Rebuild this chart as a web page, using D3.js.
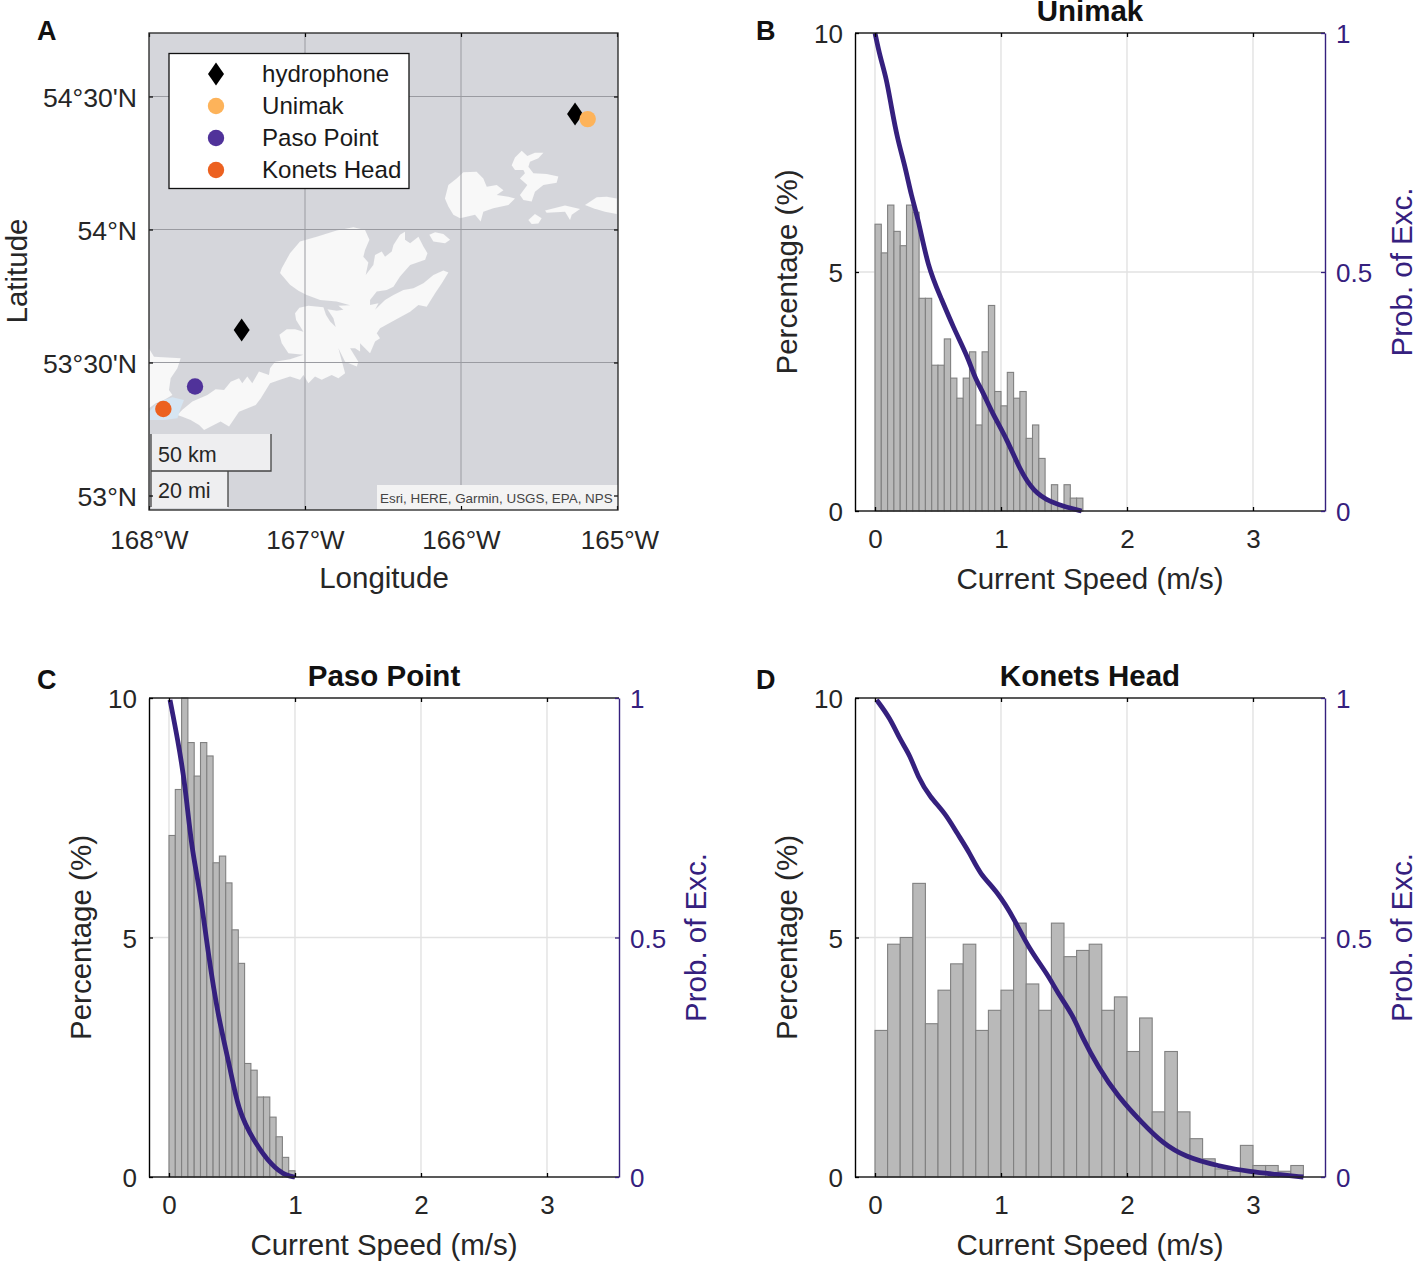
<!DOCTYPE html>
<html>
<head>
<meta charset="utf-8">
<script src="https://cdn.jsdelivr.net/npm/d3@7"></script>
<style>
  html, body { margin: 0; padding: 0; background: #fff; }
  svg { display: block; }
  text { font-family: "Liberation Sans", Arial, sans-serif; fill: #262626; }
  .tick text { font-size: 26px; }
  .axis_label { font-size: 29.5px; }
  .title { font-size: 29.5px; font-weight: bold; fill: #111; }
  .panel_letter { font-size: 27px; font-weight: bold; fill: #111; }
  .legend text { font-size: 24.1px; fill: #1a1a1a; }
</style>
</head>
<body>
<div id="chart"></div>
<script>
const speedTicks = [0, 1, 2, 3]
const pctTicks = [0, 5, 10]
const probTicks = [0, 0.5, 1]

const unimakPct = [6.0, 5.4, 6.4, 5.85, 5.55, 6.4, 6.25, 4.45, 4.45, 3.05, 3.05, 3.6, 2.78, 2.36, 2.78, 3.33, 1.8, 3.33, 4.3, 2.5, 2.2, 2.9, 2.36, 2.5, 1.52, 1.8, 1.1, 0.2, 0.55, 0.1, 0.55, 0.27, 0.27]
const pasoPct = [7.13, 8.09, 10, 9.07, 8.37, 9.07, 8.79, 6.56, 6.7, 6.14, 5.16, 4.46, 2.37, 2.23, 1.67, 1.67, 1.25, 0.84, 0.41, 0.13]
const konetsPct = [3.06, 4.86, 5.0, 6.13, 3.2, 3.9, 4.45, 4.86, 3.06, 3.48, 3.9, 5.3, 4.03, 3.48, 5.3, 4.6, 4.73, 4.86, 3.48, 3.76, 2.62, 3.32, 1.36, 2.62, 1.36, 0.8, 0.38, 0.17, 0.12, 0.66, 0.24, 0.24, 0.12, 0.24]

const unimakSpeed = [0, .04, .09, .13, .18, .24, .29, .34, .42, .52, .62, .74, .79, .86, .93, 1.05, 1.15, 1.26, 1.39, 1.52, 1.64]
const unimakExc = [1, .95, .906, .845, .776, .72, .657, .615, .51, .448, .385, .32, .28, .247, .205, .149, .086, .04, .019, .008, 0]
const pasoSpeed = [.008, .07, .127, .18, .246, .31, .39, .484, .548, .667, .825, .93, 1]
const pasoExc = [.996, .912, .822, .683, .6, .468, .334, .23, .14, .077, .02, .003, 0]
const konetsSpeed = [.013, .12, .2, .278, .34, .437, .556, .65, .754, .833, .968, 1.11, 1.214, 1.373, 1.45, 1.571, 1.643, 1.77, 1.93, 2.12, 2.28, 2.46, 2.72, 2.99, 3.17, 3.4]
const konetsExc = [.996, .958, .912, .881, .835, .793, .76, .718, .676, .632, .597, .537, .48, .422, .384, .338, .292, .23, .167, .113, .071, .042, .023, .01, .006, 0]

const lonTicks = [168, 167, 166, 165]
const latTicks = [53, 53.5, 54, 54.5]
const latLabels = ["53°N", "53°30'N", "54°N", "54°30'N"]

// land outlines, [deg W, deg N]
const landMain = [[167.786,53.322],[167.722,53.353],[167.626,53.378],[167.573,53.399],[167.519,53.397],[167.476,53.428],[167.423,53.441],[167.402,53.422],[167.37,53.447],[167.338,53.422],[167.295,53.466],[167.231,53.453],[167.224,53.478],[167.192,53.503],[167.096,53.512],[167.01,53.529],[167.106,53.535],[167.149,53.572],[167.164,53.604],[167.117,53.625],[167.064,53.625],[167.01,53.616],[167.057,53.66],[167.064,53.685],[167.036,53.706],[166.978,53.713],[166.882,53.708],[166.865,53.679],[166.839,53.654],[166.803,53.633],[166.818,53.666],[166.856,53.7],[166.797,53.695],[166.754,53.698],[166.786,53.713],[166.711,53.715],[166.797,53.729],[166.903,53.735],[166.989,53.754],[167.042,53.77],[167.096,53.792],[167.16,53.836],[167.149,53.854],[167.096,53.911],[167.032,53.955],[166.925,53.973],[166.797,53.996],[166.69,54.008],[166.615,53.998],[166.587,53.961],[166.615,53.923],[166.626,53.898],[166.594,53.876],[166.611,53.829],[166.562,53.867],[166.551,53.904],[166.508,53.917],[166.487,53.898],[166.444,53.917],[166.433,53.942],[166.391,53.98],[166.359,53.992],[166.359,53.961],[166.326,53.948],[166.273,53.973],[166.241,53.936],[166.215,53.911],[166.23,53.886],[166.326,53.867],[166.391,53.823],[166.433,53.785],[166.476,53.773],[166.54,53.767],[166.583,53.735],[166.583,53.716],[166.529,53.723],[166.551,53.698],[166.487,53.735],[166.433,53.754],[166.369,53.773],[166.305,53.779],[166.241,53.798],[166.177,53.829],[166.113,53.846],[166.081,53.838],[166.123,53.798],[166.166,53.76],[166.22,53.71],[166.273,53.716],[166.326,53.691],[166.423,53.66],[166.519,53.629],[166.54,53.61],[166.519,53.591],[166.551,53.579],[166.583,53.535],[166.615,53.554],[166.647,53.572],[166.647,53.541],[166.679,53.554],[166.711,53.554],[166.658,53.503],[166.668,53.485],[166.743,53.503],[166.786,53.554],[166.743,53.46],[166.786,53.441],[166.829,53.453],[166.893,53.435],[166.936,53.447],[166.978,53.422],[167.01,53.453],[167.032,53.435],[167.096,53.447],[167.16,53.435],[167.224,53.422],[167.284,53.365],[167.316,53.34],[167.423,53.315],[167.487,53.259],[167.541,53.278],[167.647,53.246],[167.679,53.265],[167.733,53.284],[167.786,53.296],[167.818,53.303]]
const landPatch = [[166.203,53.98],[166.166,53.99],[166.113,53.983],[166.07,53.961],[166.102,53.948],[166.177,53.955]]
const landAkun = [[166.103,54.117],[166.081,54.167],[166.028,54.192],[165.985,54.215],[165.9,54.217],[165.857,54.192],[165.835,54.161],[165.771,54.167],[165.728,54.148],[165.771,54.13],[165.696,54.123],[165.654,54.117],[165.696,54.092],[165.793,54.08],[165.857,54.067],[165.874,54.03],[165.91,54.055],[166.006,54.042],[166.049,54.055],[166.081,54.086]]
const landAkutan = [[165.675,54.242],[165.654,54.271],[165.611,54.296],[165.575,54.276],[165.526,54.289],[165.472,54.289],[165.504,54.268],[165.558,54.255],[165.568,54.236],[165.536,54.211],[165.451,54.209],[165.376,54.199],[165.387,54.176],[165.472,54.167],[165.526,54.142],[165.547,54.105],[165.6,54.111],[165.622,54.13],[165.575,54.167],[165.622,54.192],[165.59,54.211],[165.6,54.224],[165.654,54.224]]
const landSliverA = [[165.568,54.036],[165.526,54.058],[165.483,54.042],[165.504,54.023],[165.547,54.021]]
const landSliverB = [[165.461,54.071],[165.333,54.09],[165.237,54.077],[165.29,54.055],[165.301,54.036],[165.333,54.067],[165.451,54.063]]
const landEast = [[165.205,54.092],[165.13,54.121],[165.066,54.123],[165.002,54.117],[165.002,54.058],[165.077,54.067],[165.152,54.08]]
const landSouthwest = [[168,53.553],[167.968,53.522],[167.797,53.516],[167.818,53.478],[167.861,53.441],[167.872,53.397],[167.85,53.378],[167.904,53.359],[167.957,53.347],[168,53.328]]
const shallows = [[168,53.315],[167.936,53.353],[167.85,53.369],[167.776,53.359],[167.797,53.328],[167.818,53.29],[167.904,53.284],[168,53.284]]
const lands = [landMain, landPatch, landAkun, landAkutan, landSliverA, landSliverB, landEast, landSouthwest]

const hydrophones = [[167.406, 53.622], [165.269, 54.434]]
const siteNames = ["Unimak", "Paso Point", "Konets Head"]
const siteColors = ["#fdb35a", "#50329a", "#ec6120"]
const siteLocs = [[165.188, 54.415], [167.705, 53.41], [167.908, 53.325]]
const attribution = "Esri, HERE, Garmin, USGS, EPA, NPS"

const W = 1417, H = 1263
const PURPLE = "#35207e", GRID = "#e2e2e2", BIN_FINE = 0.05, BIN_COARSE = 0.1

const svg = d3.select("#chart").append("svg").attr("width", W).attr("height", H)

drawMap()
drawPanel({ left: 855, top: 33, bottom: 511, name: "Unimak", letter: "B", letterY: 40, pct: unimakPct, binW: BIN_FINE, speed: unimakSpeed, exc: unimakExc })
drawPanel({ left: 149, top: 698, bottom: 1177, name: "Paso Point", letter: "C", letterY: 689, pct: pasoPct, binW: BIN_FINE, speed: pasoSpeed, exc: pasoExc })
drawPanel({ left: 855, top: 698, bottom: 1177, name: "Konets Head", letter: "D", letterY: 689, pct: konetsPct, binW: BIN_COARSE, speed: konetsSpeed, exc: konetsExc })

function drawPanel({ left, top, bottom, name, letter, letterY, pct, binW, speed, exc }) {
    const right = left + 470,
        x0 = left + 20,
        x = d3.scaleLinear().domain([0, 1]).range([x0, x0 + 126]),
        y = d3.scaleLinear().domain([0, 10]).range([bottom, top]),
        yProb = d3.scaleLinear().domain([0, 1]).range([bottom, top]),
        g = svg.append("g")

    // grid
    g.selectAll("line.vgrid").data(speedTicks).enter().append("line")
        .attr("x1", d => x(d)).attr("x2", d => x(d)).attr("y1", top).attr("y2", bottom)
        .attr("stroke", GRID).attr("stroke-width", 1.4)
    g.append("line").attr("x1", left).attr("x2", right).attr("y1", y(5)).attr("y2", y(5))
        .attr("stroke", GRID).attr("stroke-width", 1.4)

    // histogram
    g.selectAll("rect.bar").data(pct).enter().append("rect").attr("class", "bar")
        .attr("x", (d, i) => x(i * binW))
        .attr("width", x(binW) - x(0))
        .attr("y", d => y(d))
        .attr("height", d => y(0) - y(d))
        .attr("fill", "#b9b9b9").attr("stroke", "#808080").attr("stroke-width", 1.1)

    // exceedance
    const line = d3.line().x(d => x(d[0])).y(d => yProb(d[1])).curve(d3.curveBasis)
    g.append("path").attr("d", line(d3.zip(speed, exc)))
        .attr("fill", "none").attr("stroke", PURPLE).attr("stroke-width", 4.8).attr("stroke-linejoin", "round")

    // axes
    const xBottom = d3.axisBottom(x).tickValues(speedTicks).tickFormat(d3.format("d")).tickSizeInner(-4).tickSizeOuter(0).tickPadding(19)
    const xTop = d3.axisTop(x).tickValues(speedTicks).tickFormat("").tickSizeInner(-4).tickSizeOuter(0)
    const yLeft = d3.axisLeft(y).tickValues(pctTicks).tickSizeInner(-4).tickSizeOuter(0).tickPadding(12)
    const yRight = d3.axisRight(yProb).tickValues(probTicks).tickFormat(d => d).tickSizeInner(-4).tickSizeOuter(0).tickPadding(11)

    g.append("line").attr("x1", left).attr("x2", right).attr("y1", top).attr("y2", top).attr("stroke", "#222").attr("stroke-width", 1.4)
    g.append("line").attr("x1", left).attr("x2", right).attr("y1", bottom).attr("y2", bottom).attr("stroke", "#222").attr("stroke-width", 1.4)
    g.append("g").attr("transform", `translate(0,${bottom})`).call(xBottom).call(s => s.select(".domain").remove())
    g.append("g").attr("transform", `translate(0,${top})`).call(xTop).call(s => s.select(".domain").remove())
    const yL = g.append("g").attr("transform", `translate(${left},0)`).call(yLeft)
    const yR = g.append("g").attr("transform", `translate(${right},0)`).call(yRight)
    yR.selectAll(".domain, line").attr("stroke", PURPLE)
    yR.selectAll("text").style("fill", PURPLE)
    yL.selectAll("text").attr("dy", "0.38em")
    yR.selectAll("text").attr("dy", "0.38em")

    g.selectAll(".tick line").attr("stroke-width", 1.3)
    g.selectAll(".domain").attr("stroke-width", 1.4)

    g.append("text").attr("class", "axis_label").attr("x", (left + right) / 2).attr("y", bottom + 78)
        .attr("text-anchor", "middle").text("Current Speed (m/s)")
    g.append("text").attr("class", "axis_label").attr("text-anchor", "middle")
        .attr("transform", `translate(${left - 58},${(top + bottom) / 2}) rotate(-90)`).text("Percentage (%)")
    g.append("text").attr("class", "axis_label").attr("text-anchor", "middle").style("fill", PURPLE)
        .attr("transform", `translate(${right + 87},${(top + bottom) / 2}) rotate(-90)`).text("Prob. of Exc.")
    g.append("text").attr("class", "title").attr("x", (left + right) / 2).attr("y", top - 12)
        .attr("text-anchor", "middle").text(name)
    g.append("text").attr("class", "panel_letter").attr("x", left < 500 ? 37 : 756).attr("y", letterY).text(letter)
}

function drawMap() {
    const left = 149, right = 618, top = 33, bottom = 510,
        lon = d3.scaleLinear().domain([168, 165]).range([149, 617]),
        lat = d3.scaleLinear().domain([53, 54.5]).range([495.5, 96.5]),
        g = svg.append("g"),
        toPath = pts => d3.line().x(d => lon(d[0])).y(d => lat(d[1])).curve(d3.curveLinearClosed)(pts)

    g.append("clipPath").attr("id", "map_clip").append("rect")
        .attr("x", left).attr("y", top).attr("width", right - left).attr("height", bottom - top)
    g.append("filter").attr("id", "soft").append("feGaussianBlur").attr("stdDeviation", 0.7)
    g.append("rect").attr("x", left).attr("y", top).attr("width", right - left).attr("height", bottom - top).attr("fill", "#d5d6db")

    const inner = g.append("g").attr("clip-path", "url(#map_clip)")
    const landG = inner.append("g").attr("filter", "url(#soft)")
    landG.selectAll("path.land").data(lands).enter().append("path").attr("class", "land")
        .attr("d", toPath).attr("fill", "#f8f8f8").attr("fill-rule", "nonzero")
    landG.append("path").attr("d", toPath(shallows)).attr("fill", "#d6e5f2")

    inner.selectAll("line.lon_grid").data(lonTicks.slice(1, 3)).enter().append("line")
        .attr("x1", d => lon(d)).attr("x2", d => lon(d)).attr("y1", top).attr("y2", bottom)
        .attr("stroke", "#9a9ba1").attr("stroke-width", 1)
    inner.selectAll("line.lat_grid").data(latTicks.slice(1)).enter().append("line")
        .attr("x1", left).attr("x2", right).attr("y1", d => lat(d)).attr("y2", d => lat(d))
        .attr("stroke", "#9a9ba1").attr("stroke-width", 1)

    // attribution and scale bars
    inner.append("rect").attr("x", 377).attr("y", 485).attr("width", 241).attr("height", 25).attr("fill", "#f3f3f3")
    g.append("text").attr("x", 380).attr("y", 503).style("font-size", "13.4px").style("fill", "#444").text(attribution)

    const scaleG = g.append("g")
    scaleG.append("rect").attr("x", 151).attr("y", 434).attr("width", 120).attr("height", 37).attr("fill", "#eeeef0")
    scaleG.append("rect").attr("x", 151).attr("y", 471).attr("width", 77).attr("height", 37).attr("fill", "#eeeef0")
    scaleG.append("path").attr("fill", "none").attr("stroke", "#444").attr("stroke-width", 1.3)
        .attr("d", d3.line()([[151, 434], [151, 507]]) + d3.line()([[271, 434], [271, 471], [151, 471]]) + d3.line()([[228, 471], [228, 507]]))
    scaleG.append("text").attr("x", 158).attr("y", 462).style("font-size", "21.5px").text("50 km")
    scaleG.append("text").attr("x", 158).attr("y", 498).style("font-size", "21.5px").text("20 mi")

    // ticks, frame
    const bottomAxis = d3.axisBottom(lon).tickValues(lonTicks).tickFormat(d => d + "°W").tickSizeInner(-4).tickSizeOuter(0).tickPadding(21)
    const topAxis = d3.axisTop(lon).tickValues(lonTicks).tickFormat("").tickSizeInner(-4).tickSizeOuter(0)
    const leftAxis = d3.axisLeft(lat).tickValues(latTicks).tickFormat((d, i) => latLabels[i]).tickSizeInner(-4).tickSizeOuter(0).tickPadding(12)
    const rightAxis = d3.axisRight(lat).tickValues(latTicks).tickFormat("").tickSizeInner(-4).tickSizeOuter(0)
    const bottomG = g.append("g").attr("transform", `translate(0,${bottom})`).call(bottomAxis).call(s => s.select(".domain").remove())
    g.append("g").attr("transform", `translate(0,${top})`).call(topAxis).call(s => s.select(".domain").remove())
    const leftG = g.append("g").attr("transform", `translate(${left},0)`).call(leftAxis).call(s => s.select(".domain").remove())
    g.append("g").attr("transform", `translate(${right},0)`).call(rightAxis).call(s => s.select(".domain").remove())
    bottomG.selectAll("text").attr("dx", d => d === 165 ? 2.5 : 0)
    leftG.selectAll("text").attr("dy", "0.38em").style("font-size", "26.6px")
    g.append("rect").attr("x", left).attr("y", top).attr("width", right - left).attr("height", bottom - top)
        .attr("fill", "none").attr("stroke", "#222").attr("stroke-width", 1.3)
    g.selectAll(".tick line").attr("stroke-width", 1.2)

    // sites
    const diamond = "M0,-11.5L8,0L0,11.5L-8,0Z"
    g.selectAll("circle.site").data(siteLocs).enter().append("circle").attr("class", "site")
        .attr("cx", d => lon(d[0])).attr("cy", d => lat(d[1])).attr("r", 8.2)
        .attr("fill", (d, i) => siteColors[i])
    g.selectAll("path.hydrophone").data(hydrophones).enter().append("path").attr("class", "hydrophone")
        .attr("transform", d => `translate(${lon(d[0])},${lat(d[1])})`).attr("d", diamond).attr("fill", "#000")
    g.select("circle.site").raise()

    // legend
    const legend = g.append("g").attr("class", "legend")
    legend.append("rect").attr("x", 169).attr("y", 53.5).attr("width", 240).attr("height", 135)
        .attr("fill", "#fff").attr("stroke", "#111").attr("stroke-width", 1.3)
    const rows = [{ name: "hydrophone" }].concat(siteNames.map((name, i) => ({ name, color: siteColors[i] })))
    const rowY = d3.scalePoint().domain(d3.range(rows.length)).range([74, 170])
    const row = legend.selectAll("g.row").data(rows).enter().append("g").attr("class", "row")
        .attr("transform", (d, i) => `translate(0,${rowY(i)})`)
    row.append("text").attr("x", 262).attr("dy", "0.34em").text(d => d.name)
    row.filter(d => d.color).append("circle").attr("cx", 216).attr("r", 8.2).attr("fill", d => d.color)
    row.filter(d => !d.color).append("path").attr("transform", "translate(216,0)").attr("d", diamond).attr("fill", "#000")

    g.append("text").attr("class", "axis_label").attr("x", 384).attr("y", 588).attr("text-anchor", "middle").text("Longitude")
    g.append("text").attr("class", "axis_label").attr("text-anchor", "middle")
        .attr("transform", "translate(26.7,271) rotate(-90)").text("Latitude")
    g.append("text").attr("class", "panel_letter").attr("x", 37).attr("y", 40).text("A")
}
</script>
</body>
</html>
